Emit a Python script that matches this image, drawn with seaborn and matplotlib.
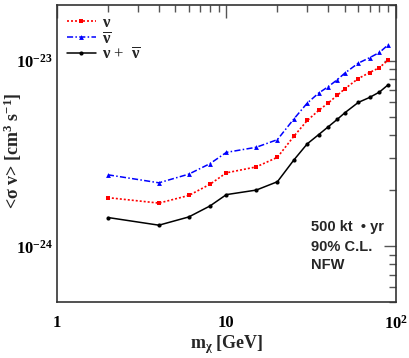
import matplotlib
matplotlib.use("Agg")
import matplotlib.pyplot as plt
import seaborn as sns
import numpy as np
from matplotlib.ticker import LogLocator, NullFormatter, FixedLocator, FixedFormatter

# dark matter mass points (GeV)
mass = [2, 4, 6, 8, 10, 15, 20, 25, 30, 35, 40, 45, 50, 60, 70, 80, 90]

# 90% C.L. limits on <sigma v> (cm^3 s^-1)
sv_nu = [1.83e-24, 1.71e-24, 1.88e-24, 2.16e-24, 2.49e-24, 2.68e-24, 3.02e-24, 3.92e-24, 4.77e-24,
         5.40e-24, 5.94e-24, 6.51e-24, 7.07e-24, 8.03e-24, 8.65e-24, 9.20e-24, 1.01e-23]
sv_nubar = [2.43e-24, 2.20e-24, 2.45e-24, 2.79e-24, 3.21e-24, 3.42e-24, 3.76e-24, 4.86e-24, 5.92e-24,
            6.70e-24, 7.27e-24, 7.90e-24, 8.59e-24, 9.72e-24, 1.04e-23, 1.11e-23, 1.22e-23]
sv_both = [1.43e-24, 1.30e-24, 1.44e-24, 1.65e-24, 1.90e-24, 2.01e-24, 2.23e-24, 2.92e-24, 3.57e-24,
           4.00e-24, 4.42e-24, 4.83e-24, 5.25e-24, 5.97e-24, 6.35e-24, 6.79e-24, 7.43e-24]

sns.set_style("white")
plt.rcParams['font.family'] = ['Liberation Serif', 'DejaVu Serif']
plt.rcParams['mathtext.fontset'] = 'custom'
plt.rcParams['mathtext.rm'] = 'Liberation Serif:bold'
plt.rcParams['mathtext.it'] = 'Liberation Serif:bold'
plt.rcParams['mathtext.bf'] = 'Liberation Serif:bold'

fig = plt.figure(figsize=(4.09, 3.58), dpi=100)
ax = fig.add_axes([0.139, 0.156, 0.829, 0.830])

sns.lineplot(x=mass, y=sv_nu, ax=ax, color="red", ls=(0, (1.2, 1.2)), lw=1.2,
             marker="s", markersize=3.5, markeredgewidth=0, label=r"$\nu$")
sns.lineplot(x=mass, y=sv_nubar, ax=ax, color="blue", ls=(0, (4, 1.5, 1, 1.5)), lw=1.1,
             marker="^", markersize=3.5, markeredgewidth=0, label=r"$\overline{\nu}$")
sns.lineplot(x=mass, y=sv_both, ax=ax, color="black", ls="-", lw=1.1,
             marker="o", markersize=3, markeredgewidth=0, label=r"$\nu$ +  $\overline{\nu}$")

ax.set_xscale("log")
ax.set_yscale("log")
ax.set_xlim(1, 100)
ax.set_ylim(5e-25, 2e-23)

ax.xaxis.set_major_locator(FixedLocator([1, 10, 100]))
ax.xaxis.set_major_formatter(FixedFormatter(["1", "10", r"$10^{2}$"]))
ax.xaxis.set_minor_locator(LogLocator(base=10, subs=np.arange(2, 10)))
ax.xaxis.set_minor_formatter(NullFormatter())
ax.yaxis.set_major_locator(FixedLocator([1e-24, 1e-23]))
ax.yaxis.set_major_formatter(FixedFormatter([r"$10^{-24}$", r"$10^{-23}$"]))
ax.yaxis.set_minor_locator(LogLocator(base=10, subs=np.arange(2, 10)))
ax.yaxis.set_minor_formatter(NullFormatter())

ax.tick_params(which="both", direction="in", top=True, right=True, colors="#555555",
               labelcolor="black", labelsize=12)
ax.tick_params(which="major", length=9, width=1)
ax.tick_params(which="minor", length=5, width=1)
ax.tick_params(axis="x", which="major", pad=9)
ax.tick_params(axis="y", which="major", pad=3)
for lab in ax.get_xticklabels() + ax.get_yticklabels():
    lab.set_fontweight("bold")
for s in ax.spines.values():
    s.set_color("#333333")
    s.set_linewidth(1.2)

ax.set_xlabel(r"m$_{\chi}$ [GeV]", fontsize=13, fontweight="bold")
ax.set_ylabel(r"<$\sigma$ v> [cm$^{3}$ s$^{-1}$]", fontsize=13, fontweight="bold")
ax.xaxis.set_label_coords(0.5, -0.105)
ax.yaxis.set_label_coords(-0.098, 0.51)

leg = ax.legend(loc="upper left", frameon=False, fontsize=12, handlelength=1.75,
                handletextpad=0.35, labelspacing=0.0, borderaxespad=0.2,
                bbox_to_anchor=(0.0, 1.0))

ax.text(0.75, 0.254, "500 kt  \u2022 yr", transform=ax.transAxes, fontsize=10.5,
        fontweight="bold", family="Liberation Sans", va="center")
ax.text(0.75, 0.186, "90% C.L.", transform=ax.transAxes, fontsize=10.5,
        fontweight="bold", family="Liberation Sans", va="center")
ax.text(0.75, 0.125, "NFW", transform=ax.transAxes, fontsize=10.5,
        fontweight="bold", family="Liberation Sans", va="center")

fig.savefig("out.png", dpi=100)
